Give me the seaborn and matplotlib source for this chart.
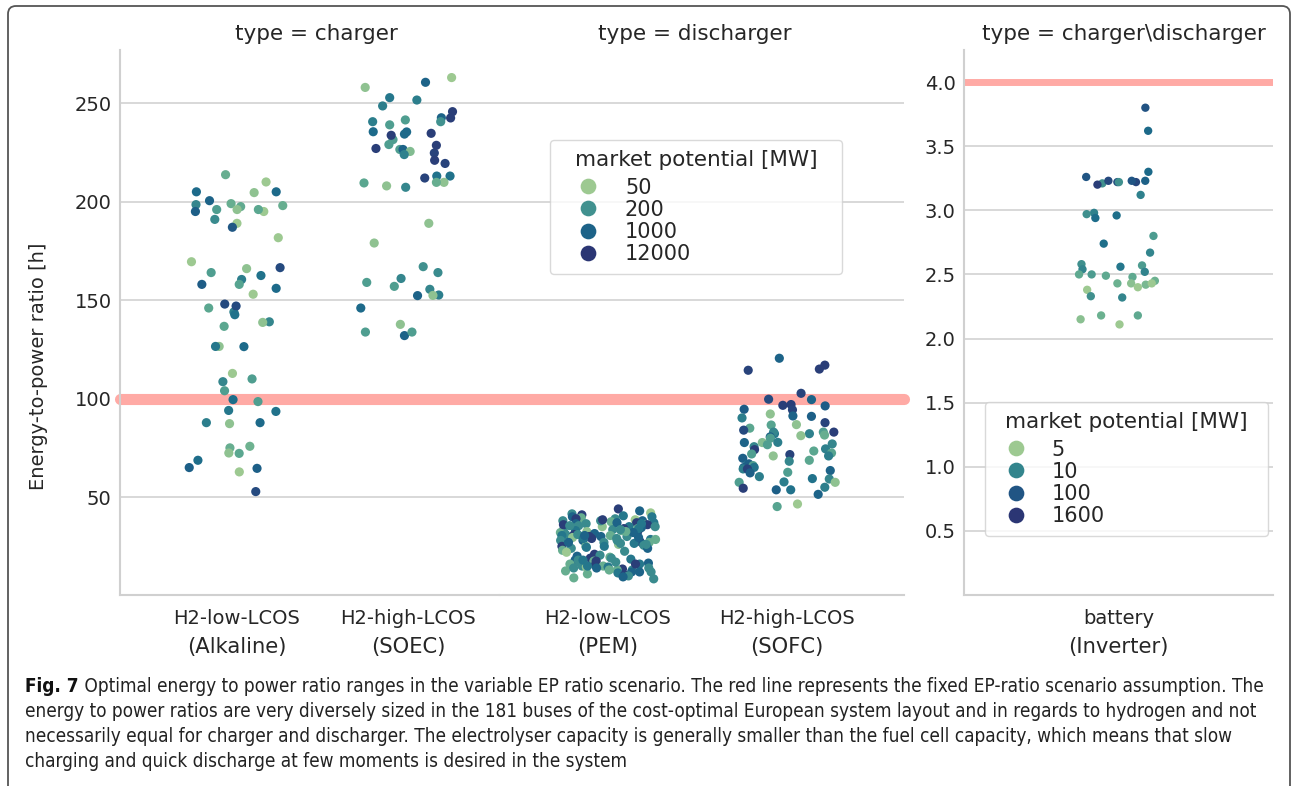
import numpy as np
import pandas as pd
import matplotlib
matplotlib.use("Agg")
import matplotlib.pyplot as plt
import matplotlib.transforms as mtrans
from matplotlib.lines import Line2D
from matplotlib.patches import FancyBboxPatch
from matplotlib import font_manager
from matplotlib.font_manager import FontProperties
import seaborn as sns

# ---------------- data ----------------
charger_techs = ["H2-low-LCOS", "H2-high-LCOS"]
charger_subs = ["(Alkaline)", "(SOEC)"]
discharger_techs = ["H2-low-LCOS", "H2-high-LCOS"]
discharger_subs = ["(PEM)", "(SOFC)"]
battery_techs = ["battery"]
battery_subs = ["(Inverter)"]

alk_ratio = [205, 195, 199, 196, 198, 197.5, 196, 198.5, 191, 189, 204.6, 210, 213.7, 195, 196, 205,
             200.5, 187, 181.7, 169.5, 166, 166.5, 164, 160.5, 156, 158, 158, 162.5, 153, 144, 146,
             147, 148, 142.6, 136.7, 139, 138.7, 126.5, 126.4, 126.5, 112.8, 108.6, 110, 104, 99.5,
             98.5, 94, 93.5, 87.8, 87.8, 87.3, 75, 75.8, 72.2, 72.4, 65, 68.7, 64.6, 62.8, 52.8]
alk_mp = [800, 45, 100, 120, 100, 110, 60, 300, 250, 50, 60, 50, 100, 1200, 150, 800,
          1000, 2000, 40, 50, 60, 4000, 150, 400, 800, 1500, 130, 600, 50, 350, 120,
          4000, 4000, 600, 120, 300, 60, 60, 800, 500, 50, 300, 150, 150, 700,
          150, 500, 600, 400, 800, 60, 100, 90, 120, 60, 1200, 700, 1200, 50, 4000]

soec_ratio = [263, 260.6, 258, 252.8, 251.6, 248.6, 245.7, 242.5, 242.6, 241.5, 240.6, 240.6, 239,
              234.3, 234.7, 235.4, 235.5, 231.5, 233.7, 229, 227, 226.5, 226.5, 224.7, 228.6, 225.5,
              223.9, 221, 219.4, 212, 213, 213, 209.5, 209.8, 208, 207.3, 209.8, 189, 179, 167,
              159, 157, 164, 161, 152.3, 155.5, 152.6, 152.4, 146, 137.7, 132, 133.8, 133.8]
soec_mp = [50, 1000, 60, 500, 400, 400, 8000, 8000, 1000, 150, 200, 400, 150,
           800, 8000, 800, 800, 150, 8000, 150, 8000, 150, 1000, 6000, 8000, 70,
           350, 8000, 6000, 6000, 600, 600, 120, 60, 60, 300, 100, 60, 60, 200,
           150, 150, 250, 300, 1000, 300, 400, 60, 800, 60, 1000, 150, 150]

pem_ratio = [44, 43, 42, 41.5, 41, 40.5, 40, 39.5, 39, 39, 38.5, 38, 38, 37.5, 37, 37, 36.5, 36.5,
             36, 36, 35.5, 35, 35, 34.5, 34.5, 34, 34, 33.5, 33, 33, 32.5, 32.5, 32, 32, 31.5,
             31, 31, 30.5, 30.5, 30, 30, 29.5, 29, 29, 28.5, 28.5, 28, 28, 27.5, 27, 27, 26.5,
             26, 26, 25.5, 25, 25, 24.5, 24, 24, 23, 22.5, 22, 21, 20.5, 20, 19.5, 19, 19,
             18.5, 18, 18, 17.5, 17.5, 17, 16.5, 16, 16, 15.5, 15, 15, 14.5, 14.5, 14, 14,
             13.5, 13, 13, 12.5, 12, 12, 11.5, 11, 10.5, 10, 9.5, 9, 8.5,
             40, 38, 37, 36, 35, 34, 33, 32, 31, 30, 29, 28, 27, 26, 25, 38.5, 35.5, 32.5,
             29.5, 26.5, 18, 16, 14, 12, 17, 15, 13, 33.5, 30.5, 36.5]
pem_mp = [8000, 1000, 50, 250, 8000, 500, 1000, 100, 250, 8000, 50, 1000, 250, 100, 8000, 500,
          250, 1000, 100, 8000, 250, 60, 500, 1000, 250, 8000, 100, 250, 500, 1000, 60, 8000,
          250, 100, 1000, 250, 8000, 500, 100, 250, 1000, 60, 8000, 250, 500, 100, 1000, 250,
          8000, 100, 250, 500, 1000, 60, 250, 8000, 100, 500, 250, 1000, 100, 250, 50, 8000,
          250, 1000, 100, 250, 8000, 500, 1000, 250, 100, 8000, 250, 1000, 500, 100, 8000,
          250, 100, 60, 500, 250, 1000, 8000, 100, 250, 100, 1000, 250, 500, 100, 8000, 250,
          1000, 100, 250,
          500, 250, 1000, 8000, 250, 500, 100, 1000, 250, 8000, 500, 250, 1000, 250, 500, 8000,
          250, 100, 1000, 250, 500, 8000, 250, 1000, 250, 500, 100, 250, 1000, 500]

sofc_ratio = [120.5, 117, 115, 114.4, 102.7, 99.7, 99.5, 97, 96.6, 96.3, 94.6, 94.3, 92.2, 90.2,
              91, 91.2, 87.8, 86.8, 86.6, 83, 85, 84, 82.2, 82.2, 83, 83, 80.6, 81.5, 81.2, 79.9,
              77.7, 77.7, 77, 77.8, 75.6, 76.6, 74.5, 74.1, 73.4, 71.9, 72.4, 71.6, 69.7, 70.9,
              70.9, 68.7, 68.2, 66.5, 66.9, 66, 65.1, 65, 64.3, 63.5, 64.3, 62.6, 62.3, 60.4,
              59.4, 59.2, 57.7, 57.5, 57.5, 54.5, 53.7, 53.7, 55, 51.4, 46.5, 45.2]
sofc_mp = [1000, 8000, 8000, 6000, 6000, 4000, 1000, 8000, 8000, 1500, 1500, 6000, 60, 400,
           1200, 1000, 6000, 60, 130, 8000, 120, 4000, 350, 500, 300, 150, 1000, 100, 60, 150,
           1000, 70, 300, 400, 300, 150, 350, 8000, 120, 150, 130, 6000, 1200, 400,
           60, 120, 300, 500, 1200, 150, 600, 1200, 400, 1000, 6000, 150, 1200, 400,
           600, 300, 400, 150, 60, 8000, 1200, 600, 400, 1000, 50, 130]

bat_ratio = [3.80, 3.62, 3.30, 3.22, 3.26, 3.21, 3.22, 3.22, 3.23, 3.20, 3.23, 3.23, 3.12, 2.98,
             2.96, 2.97, 2.94, 2.80, 2.74, 2.67, 2.56, 2.58, 2.57, 2.54, 2.52, 2.50, 2.48, 2.50,
             2.49, 2.45, 2.43, 2.43, 2.40, 2.38, 2.42, 2.43, 2.33, 2.32, 2.18, 2.18, 2.15, 2.11]
bat_mp = [120, 40, 40, 400, 100, 9, 200, 9, 60, 800, 100, 300, 12, 12,
          30, 9, 35, 8, 30, 10, 20, 9, 8, 10, 11, 7, 7, 8,
          7, 6.5, 6.5, 5.5, 5, 5, 6, 5, 9, 10, 6.5, 7, 5.5, 5]

h2_legend_values = [50, 200, 1000, 12000]
bat_legend_values = [5, 10, 100, 1600]
legend_title = "market potential [MW]"
fixed_ep_h2 = 100
fixed_ep_battery = 4.0
h2_yticks = [50, 100, 150, 200, 250]
bat_yticks = [0.5, 1.0, 1.5, 2.0, 2.5, 3.0, 3.5, 4.0]

caption_label = "Fig. 7"
caption_lines = [
    " Optimal energy to power ratio ranges in the variable EP ratio scenario. The red line represents the fixed EP-ratio scenario assumption. The",
    "energy to power ratios are very diversely sized in the 181 buses of the cost-optimal European system layout and in regards to hydrogen and not",
    "necessarily equal for charger and discharger. The electrolyser capacity is generally smaller than the fuel cell capacity, which means that slow",
    "charging and quick discharge at few moments is desired in the system",
]

# ---------------- style ----------------
sns.set_theme(style="whitegrid")
plt.rcParams["font.family"] = ["DejaVu Sans"]
plt.rcParams["grid.color"] = "#d6d6d6"
plt.rcParams["grid.linewidth"] = 1.3
plt.rcParams["axes.edgecolor"] = "#d0d0d0"
plt.rcParams["axes.linewidth"] = 1.5

cmap = sns.color_palette("crest", as_cmap=True)
H2_POS = [0.03, 0.42, 0.72, 0.97]
BAT_POS = [0.03, 0.50, 0.80, 0.97]


def color_of(v, anchors, pos):
    return cmap(float(np.interp(np.log10(v), np.log10(anchors), pos)))


def palette_for(values, anchors, pos):
    return {v: color_of(v, anchors, pos) for v in sorted(set(values))}


W, H = 1292, 786
fig = plt.figure(figsize=(W / 100, H / 100), dpi=100)


def px_axes(x0, x1, y0, y1, **kw):
    return fig.add_axes([x0 / W, 1 - y1 / H, (x1 - x0) / W, (y1 - y0) / H], **kw)


ax_c = px_axes(120, 500, 50, 595)
ax_d = px_axes(500, 904, 50, 595, sharey=ax_c)
ax_b = px_axes(964, 1273, 50, 595)

df_c = pd.DataFrame({
    "tech": [charger_techs[0]] * len(alk_ratio) + [charger_techs[1]] * len(soec_ratio),
    "ratio": alk_ratio + soec_ratio,
    "mp": alk_mp + soec_mp,
})
df_d = pd.DataFrame({
    "tech": [discharger_techs[0]] * len(pem_ratio) + [discharger_techs[1]] * len(sofc_ratio),
    "ratio": pem_ratio + sofc_ratio,
    "mp": pem_mp + sofc_mp,
})
df_b = pd.DataFrame({
    "tech": battery_techs * len(bat_ratio),
    "ratio": bat_ratio,
    "mp": bat_mp,
})

np.random.seed(7)
sns.stripplot(data=df_c, x="tech", y="ratio", hue="mp", order=charger_techs,
              palette=palette_for(df_c["mp"], h2_legend_values, H2_POS),
              jitter=0.28, size=6.6, linewidth=0, legend=False, ax=ax_c, zorder=3)
sns.stripplot(data=df_d, x="tech", y="ratio", hue="mp", order=discharger_techs,
              palette=palette_for(df_d["mp"], h2_legend_values, H2_POS),
              jitter=0.27, size=6.6, linewidth=0, legend=False, ax=ax_d, zorder=3)
sns.stripplot(data=df_b, x="tech", y="ratio", hue="mp", order=battery_techs,
              palette=palette_for(df_b["mp"], bat_legend_values, BAT_POS),
              jitter=0.13, size=6.0, linewidth=0, legend=False, ax=ax_b, zorder=3)

red = "#ffaaa5"
for ax in (ax_c, ax_d):
    ax.axhline(fixed_ep_h2, color=red, lw=8, solid_capstyle="round", clip_on=False, zorder=2)
ax_b.axhline(fixed_ep_battery, color=red, lw=5, zorder=2)

ax_c.set_ylim(0.3, 277)
ax_c.set_yticks(h2_yticks)
ax_c.set_xlim(-0.684, 1.538)
ax_d.set_xlim(-0.603, 1.654)
ax_b.set_ylim(0, 4.25)
ax_b.set_yticks(bat_yticks)
ax_b.set_xlim(-0.5, 0.5)

for ax in (ax_c, ax_d, ax_b):
    ax.set_xlabel("")
    ax.set_ylabel("")
    ax.xaxis.grid(False)
    ax.tick_params(axis="y", labelsize=14, pad=6, length=0)
    ax.tick_params(axis="x", labelsize=14, pad=10, length=0)
    for s in ("top", "right"):
        ax.spines[s].set_visible(False)
ax_d.spines["left"].set_visible(False)
ax_d.tick_params(axis="y", labelleft=False)

for ax, subs in ((ax_c, charger_subs), (ax_d, discharger_subs), (ax_b, battery_subs)):
    tr = mtrans.blended_transform_factory(ax.transData, ax.transAxes)
    for i, s in enumerate(subs):
        ax.text(i, -0.0954, s, transform=tr, ha="center", va="center", fontsize=15.2,
                color="#262626")

ax_c.set_ylabel("Energy-to-power ratio [h]", fontsize=14)
ax_c.yaxis.set_label_coords(-0.19, 0.42)

ax_c.set_title("type = charger", fontsize=15.5, x=0.516, pad=7)
ax_d.set_title("type = discharger", fontsize=15.5, x=0.483, pad=7)
ax_b.set_title("type = charger\\discharger", fontsize=15.5, x=0.518, pad=7)


def make_legend(ax, values, anchors, pos, x0, y0, width, hlen, hpad):
    handles = [Line2D([], [], ls="", marker="o", markersize=11.3, markeredgewidth=0,
                      color=color_of(v, anchors, pos)) for v in values]
    leg = ax.legend(handles, [str(v) for v in values], title=legend_title,
                    loc="upper left", bbox_to_anchor=(x0 / W, 1 - y0 / H, width / W, 0),
                    bbox_transform=fig.transFigure, mode="expand", borderaxespad=0,
                    fontsize=15, title_fontsize=15.5, labelspacing=0.1,
                    handlelength=hlen, handletextpad=hpad, borderpad=0.5, frameon=True)
    leg.get_frame().set_edgecolor("#d0d0d0")
    # a little more room between the title and the entries
    leg._legend_box.sep = 5.2
    return leg


make_legend(ax_d, h2_legend_values, h2_legend_values, H2_POS, 550, 140, 292, 2.6, 0.5)
make_legend(ax_b, bat_legend_values, bat_legend_values, BAT_POS, 985, 402, 283, 2.0, 0.7)

# frame around the figure
frame = FancyBboxPatch((8 / 100, -0.3), (1290 - 8) / 100, (786 - 6) / 100 + 0.3,
                       boxstyle="round,pad=0,rounding_size=0.08",
                       transform=fig.dpi_scale_trans, facecolor="none",
                       edgecolor="#555555", lw=1.3, clip_on=False)
fig.add_artist(frame)


# caption font: prefer a narrow / condensed sans face
def find_caption_fonts():
    prefs = ["Liberation Sans Narrow", "DejaVu Sans Condensed", "Roboto Condensed",
             "Open Sans Condensed", "Noto Sans Condensed"]
    entries = font_manager.fontManager.ttflist
    cond = [f for f in entries if ("Narrow" in f.name or "Condensed" in f.name
                                   or str(f.stretch).lower() in ("condensed", "semi-condensed",
                                                                  "extra-condensed"))
            and "Oblique" not in f.style and f.style == "normal"]

    def pick(weight_bold):
        best = None
        for pname in prefs:
            for f in cond:
                if f.name == pname or pname.split()[0] in f.name:
                    w = f.weight if isinstance(f.weight, int) else (700 if "bold" in str(f.weight) else 400)
                    if (w >= 600) == weight_bold:
                        return f.fname
        for f in cond:
            w = f.weight if isinstance(f.weight, int) else (700 if "bold" in str(f.weight) else 400)
            if (w >= 600) == weight_bold:
                best = f.fname
                break
        return best

    return pick(False), pick(True)


reg_file, bold_file = find_caption_fonts()
if reg_file:
    fp_reg = FontProperties(fname=reg_file)
else:
    fp_reg = FontProperties(family="DejaVu Sans")
if bold_file:
    fp_bold = FontProperties(fname=bold_file)
else:
    fp_bold = FontProperties(family=fp_reg.get_family() if not reg_file else "DejaVu Sans",
                             weight="bold")
    if reg_file:
        fp_bold = FontProperties(fname=reg_file, weight="bold")

# fit the caption size so the longest line spans like the reference
renderer = fig.canvas.get_renderer()
probe = fig.text(25 / W, 0.5, caption_lines[1], fontproperties=fp_reg, fontsize=13)
wpx = probe.get_window_extent(renderer).width
probe.remove()
cap_size = min(14.0, 13 * (1262 - 25) / wpx)

base_y = [692, 717, 742, 767]
t0 = fig.text(25 / W, 1 - base_y[0] / H, caption_label, fontproperties=fp_bold,
              fontsize=cap_size, va="baseline", color="#111111")
bb = t0.get_window_extent(renderer)
fig.text(bb.x1 / W, 1 - base_y[0] / H, caption_lines[0], fontproperties=fp_reg,
         fontsize=cap_size, va="baseline", color="#222222")
for line, y in zip(caption_lines[1:], base_y[1:]):
    fig.text(25 / W, 1 - y / H, line, fontproperties=fp_reg, fontsize=cap_size, va="baseline",
             color="#222222")

fig.savefig("out.png", dpi=100)
